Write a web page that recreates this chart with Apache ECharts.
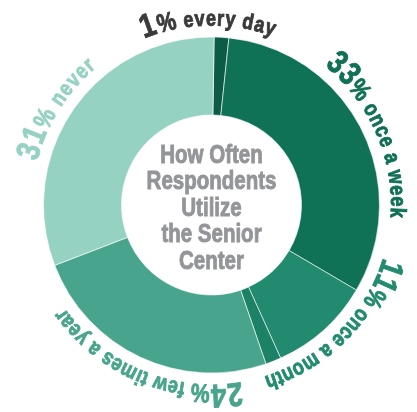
<!DOCTYPE html>
<html>
<head>
<meta charset="utf-8">
<script src="https://cdn.jsdelivr.net/npm/echarts@6/dist/echarts.min.js"></script>
<style>
  html, body { margin: 0; padding: 0; background: #fff; }
  #chart { width: 417px; height: 412px; }
</style>
</head>
<body>
<div id="chart"></div>
<script>
  // slices as drawn (the once-a-month wedge has a thin darker strip at its end)
  const sliceNames = ['every day', 'once a week', 'once a month', 'once a month (b)', 'few times a year', 'never']
  const sliceValues = [1.4, 31.8, 9.8, 1.5, 24.4, 31.1]

  // labels printed round the ring
  const labelNames = ['every day', 'once a week', 'once a month', 'few times a year', 'never']
  const labelPercents = [1, 33, 11, 24, 31]

  const titleLines = ['How Often', 'Respondents', 'Utilize', 'the Senior', 'Center']

  // styles / layout
  const sliceColors = ['#0d5b46', '#0f7256', '#218a6f', '#1b8167', '#48a48c', '#96d2c2']
  const labelColors = ['#3a3a3a', '#0f7055', '#218a6f', '#48a48c', '#96d2c2']
  // start / end of each label in degrees, clockwise from 12 o'clock
  const labelArcs = [[-22, 20], [39, 94], [107, 163], [170.5, 235], [284, 320]]

  const cx = 211.5, cy = 205, rBase = 179
  const FONT = '"Liberation Sans", Arial, sans-serif'
  const SQUEEZE = 0.82   // narrow the bold sans to look condensed
  const ctx = document.createElement('canvas').getContext('2d')

  // lay characters out along the circle, tops pointing outward
  function arcText(parts, a0, a1, color) {
    let chars = []
    parts.forEach(p => {
      ctx.font = 'bold ' + p.size + 'px ' + FONT
      for (let ch of p.t) {
        chars.push({ ch: ch, size: p.size, w: ctx.measureText(ch).width * SQUEEZE })
      }
    })
    let natural = chars.reduce((s, c) => s + c.w, 0)
    let span = (a1 - a0) * Math.PI / 180 * rBase
    let gap = (span - natural) / (chars.length - 1)
    let out = []
    let s = 0
    chars.forEach(c => {
      let th = a0 * Math.PI / 180 + (s + c.w / 2) / rBase
      let r = rBase + c.size * 0.3
      out.push({
        type: 'text',
        x: cx + r * Math.sin(th),
        y: cy - r * Math.cos(th),
        rotation: -th,
        scaleX: SQUEEZE,
        silent: true,
        style: {
          text: c.ch,
          font: 'bold ' + c.size + 'px ' + FONT,
          fill: color,
          stroke: color,
          lineWidth: 0.9,
          align: 'center',
          verticalAlign: 'middle'
        }
      })
      s += c.w + gap
    })
    return out
  }

  let graphics = []
  labelNames.forEach((name, i) => {
    let parts = [
      { t: String(labelPercents[i]), size: 33 },
      { t: '%', size: 26 },
      { t: ' ' + name, size: 22 }
    ]
    graphics = graphics.concat(arcText(parts, labelArcs[i][0], labelArcs[i][1], labelColors[i]))
  })
  graphics.push({
    type: 'text',
    x: cx,
    y: cy + 4,
    scaleX: SQUEEZE,
    silent: true,
    style: {
      text: titleLines.join('\n'),
      font: 'bold 25px ' + FONT,
      lineHeight: 26.5,
      fill: '#939598',
      stroke: '#939598',
      lineWidth: 0.9,
      align: 'center',
      verticalAlign: 'middle'
    }
  })

  let chart = echarts.init(document.getElementById('chart'))
  chart.setOption({
    animation: false,
    backgroundColor: '#fff',
    series: [{
      type: 'pie',
      center: [cx, cy],
      radius: [90, 168],
      startAngle: 89.1,
      clockwise: true,
      silent: true,
      label: { show: false },
      labelLine: { show: false },
      itemStyle: { borderColor: '#fff', borderWidth: 0.6 },
      data: sliceNames.map((n, i) => ({
        name: n,
        value: sliceValues[i],
        itemStyle: { color: sliceColors[i] }
      }))
    }],
    graphic: graphics
  })
</script>
</body>
</html>
